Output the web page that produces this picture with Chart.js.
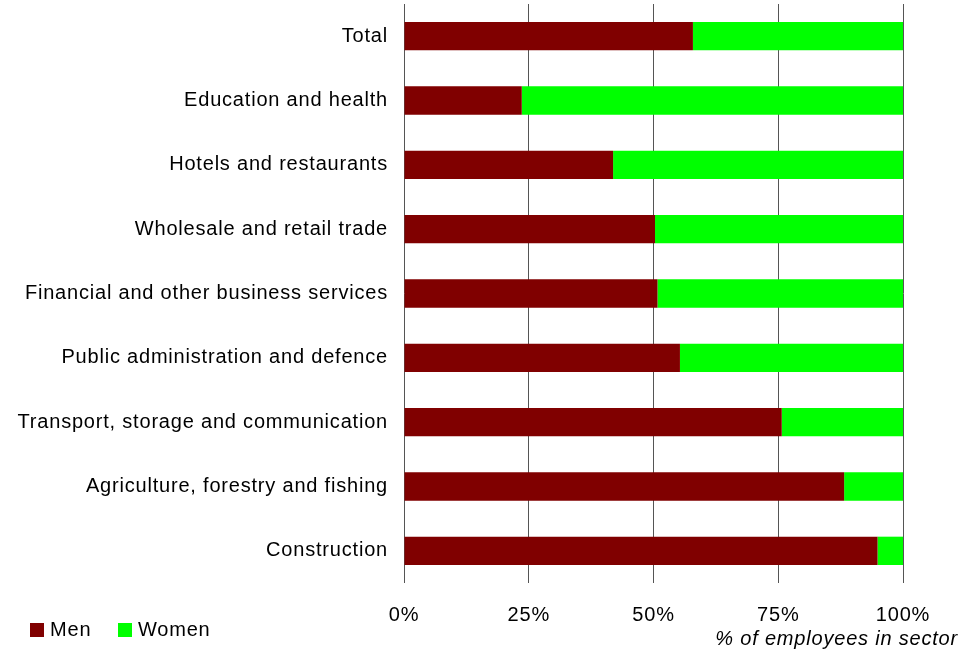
<!DOCTYPE html>
<html>
<head>
<meta charset="utf-8">
<script src="https://cdn.jsdelivr.net/npm/chart.js@4.4.0/dist/chart.umd.min.js"></script>
<style>
  html, body { margin: 0; padding: 0; background: #fff; }
  #wrap { width: 980px; height: 654px; position: relative; }
</style>
</head>
<body>
<div id="wrap"><canvas id="sectorChart" width="980" height="654"></canvas></div>
<script>
// sectors, top to bottom
const sectors = [
  "Total",
  "Education and health",
  "Hotels and restaurants",
  "Wholesale and retail trade",
  "Financial and other business services",
  "Public administration and defence",
  "Transport, storage and communication",
  "Agriculture, forestry and fishing",
  "Construction"
];
// share of employees, %
const menShare   = [57.9, 23.6, 41.9, 50.3, 50.8, 55.3, 75.7, 88.2, 94.9];
const womenShare = [42.1, 76.4, 58.1, 49.7, 49.2, 44.7, 24.3, 11.8, 5.1];
const xTicks = [0, 25, 50, 75, 100];
const axisTitle = "% of employees in sector";

const FONT = "'Liberation Sans', Arial, sans-serif";
const SPACING = "0.8px";

// slightly wider text everywhere
const spacingPlugin = {
  id: "spacing",
  beforeInit(chart) { chart.ctx.letterSpacing = SPACING; },
  beforeUpdate(chart) { chart.ctx.letterSpacing = SPACING; },
  beforeDraw(chart) { chart.ctx.letterSpacing = SPACING; }
};

// legend squares + axis caption drawn under the plot
const footerPlugin = {
  id: "footer",
  afterDraw(chart) {
    const ctx = chart.ctx;
    ctx.save();
    ctx.letterSpacing = SPACING;
    ctx.font = "20px " + FONT;
    ctx.textBaseline = "middle";
    let x = 30;
    const y = 630;
    chart.data.datasets.forEach(ds => {
      ctx.fillStyle = ds.backgroundColor;
      ctx.fillRect(x, y - 7, 14, 14);
      ctx.fillStyle = "#000";
      ctx.textAlign = "left";
      ctx.fillText(ds.label, x + 20, y);
      x += 88;
    });
    ctx.font = "italic 20px " + FONT;
    ctx.textAlign = "right";
    ctx.fillText(axisTitle, 958, 639);
    ctx.restore();
  }
};

const ctx = document.getElementById("sectorChart").getContext("2d");
new Chart(ctx, {
  type: "bar",
  data: {
    labels: sectors,
    datasets: [
      { label: "Men", data: menShare, backgroundColor: "#800000", borderWidth: 0 },
      { label: "Women", data: womenShare, backgroundColor: "#00ff00", borderWidth: 0 }
    ]
  },
  options: {
    indexAxis: "y",
    responsive: false,
    animation: false,
    layout: { padding: { top: 4, right: 77, left: 0, bottom: 0 } },
    datasets: { bar: { categoryPercentage: 1, barPercentage: 0.44 } },
    plugins: {
      legend: { display: false },
      tooltip: { enabled: false }
    },
    scales: {
      x: {
        stacked: true,
        min: 0,
        max: 100,
        afterBuildTicks: scale => { scale.ticks = xTicks.map(v => ({ value: v })); },
        afterFit: scale => {
          scale.height = 71;
          scale.paddingLeft = 0;
          scale.paddingRight = 0;
        },
        grid: { color: "#555", lineWidth: 1, drawTicks: false },
        border: { display: false },
        ticks: {
          padding: 20,
          color: "#000",
          font: { family: FONT, size: 20 },
          callback: v => v + "%"
        }
      },
      y: {
        stacked: true,
        afterFit: scale => {
          scale.width = 404;
          scale.paddingTop = 0;
          scale.paddingBottom = 0;
        },
        grid: { display: false, drawTicks: false },
        border: { display: false },
        ticks: {
          padding: 16,
          color: "#000",
          font: { family: FONT, size: 20 }
        }
      }
    }
  },
  plugins: [spacingPlugin, footerPlugin]
});
</script>
</body>
</html>
